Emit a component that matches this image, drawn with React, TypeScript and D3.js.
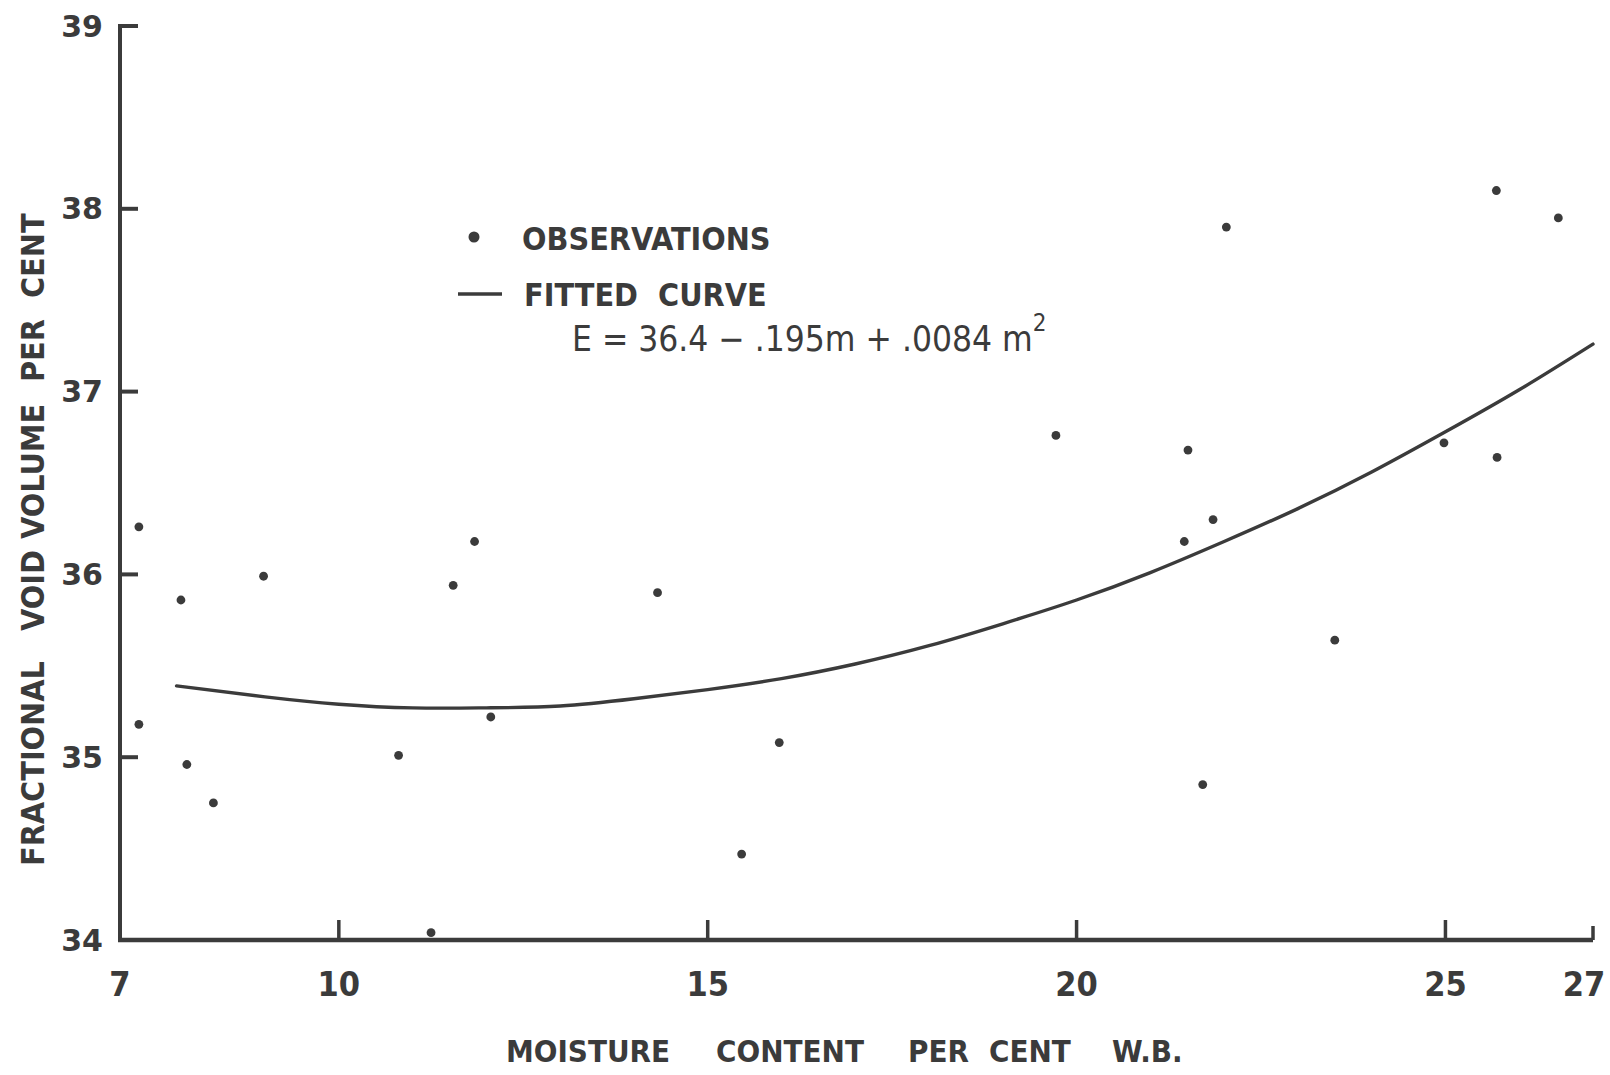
import React from "react";
import * as d3 from "d3";

// Observations (moisture content % w.b., fractional void volume %)
const moisture = [7.29, 7.29, 7.86, 7.94, 8.3, 8.98, 10.81, 11.25, 11.55, 11.84, 12.06, 14.32, 15.46, 15.97, 19.72, 21.51, 21.46, 21.85, 22.03, 21.71, 23.5, 24.98, 25.7, 25.69, 26.53];
const voidVolume = [36.26, 35.18, 35.86, 34.96, 34.75, 35.99, 35.01, 34.04, 35.94, 36.18, 35.22, 35.9, 34.47, 35.08, 36.76, 36.68, 36.18, 36.3, 37.9, 34.85, 35.64, 36.72, 36.64, 38.1, 37.95];

// Fitted curve points
const curveM = [7.8, 9, 10, 11, 12, 13, 14, 15, 16, 17, 18, 19, 20, 21, 22, 23, 24, 25, 26, 27];
const curveE = [35.39, 35.33, 35.29, 35.27, 35.27, 35.28, 35.32, 35.37, 35.43, 35.51, 35.61, 35.73, 35.86, 36.01, 36.18, 36.36, 36.56, 36.78, 37.01, 37.26];

const xTicks = [7, 10, 15, 20, 25, 27];
const yTicks = [34, 35, 36, 37, 38, 39];

const xTitleWords = ["MOISTURE", "CONTENT", "PER", "CENT", "W.B."];
const xTitleStarts = [506, 716, 908, 989, 1112];
const yTitleWords = ["FRACTIONAL", "VOID", "VOLUME", "PER", "CENT"];
const yTitleStarts = [866, 631, 539, 382, 298];

const INK = "#3b3b3b";
const COND = "'DejaVu Sans Condensed', 'DejaVu Sans', sans-serif";

export default function App() {
  const W = 1610, H = 1075;
  const x = d3.scaleLinear().domain([7, 27]).range([117.5, 1593]);
  const y = d3.scaleLinear().domain([34, 39]).range([940, 26]);
  const axisX = 120;
  const axisY = 940;

  const line = d3
    .line<number>()
    .x((_, i) => x(curveM[i]))
    .y((d) => y(d))
    .curve(d3.curveNatural);

  return (
    <svg
      width={W}
      height={H}
      viewBox={`0 0 ${W} ${H}`}
      style={{ position: "absolute", left: 0, top: 0, display: "block", background: "#fff" }}
    >
      <rect x={0} y={0} width={W} height={H} fill="#fff" />

      {/* Y axis */}
      <line x1={axisX} y1={y(39) - 2} x2={axisX} y2={axisY + 2} stroke={INK} strokeWidth={4} />
      {yTicks.map((t) => (
        <g key={"yt" + t}>
          {t !== 34 && (
            <line x1={axisX} x2={axisX + 18} y1={y(t)} y2={y(t)} stroke={INK} strokeWidth={4} />
          )}
          <text
            x={103}
            y={y(t)}
            textAnchor="end"
            dominantBaseline="central"
            fontFamily="'DejaVu Sans', sans-serif"
            fontWeight="bold"
            fontSize={30}
            fill={INK}
          >
            {t}
          </text>
        </g>
      ))}

      {/* X axis */}
      <line x1={axisX - 2} y1={axisY} x2={x(27)} y2={axisY} stroke={INK} strokeWidth={4.5} />
      {xTicks.map((t, i) => (
        <g key={"xt" + t}>
          {t !== 7 && (
            <line
              x1={x(t)}
              x2={x(t)}
              y1={axisY}
              y2={axisY - (i === xTicks.length - 1 ? 14 : 20)}
              stroke={INK}
              strokeWidth={3.5}
            />
          )}
          <text
            x={i === xTicks.length - 1 ? x(t) - 9 : t === 7 ? axisX : x(t)}
            y={996}
            textAnchor="middle"
            fontFamily={COND}
            fontWeight="bold"
            fontSize={34}
            fill={INK}
          >
            {t}
          </text>
        </g>
      ))}

      {/* Axis titles */}
      {xTitleWords.map((w, i) => (
        <text
          key={"xw" + i}
          x={xTitleStarts[i]}
          y={1062}
          fontFamily={COND}
          fontWeight="bold"
          fontSize={31}
          fill={INK}
        >
          {w}
        </text>
      ))}
      <g transform="rotate(-90)">
        {yTitleWords.map((w, i) => (
          <text
            key={"yw" + i}
            x={-yTitleStarts[i]}
            y={44}
            fontFamily={COND}
            fontWeight="bold"
            fontSize={32}
            fill={INK}
          >
            {w}
          </text>
        ))}
      </g>

      {/* Fitted curve */}
      <path d={line(curveE) || ""} fill="none" stroke={INK} strokeWidth={3.4} strokeLinecap="round" />

      {/* Observations */}
      {moisture.map((m, i) => (
        <circle key={"p" + i} cx={x(m)} cy={y(voidVolume[i])} r={4.4} fill={INK} />
      ))}

      {/* Legend */}
      <circle cx={474} cy={237} r={5.5} fill={INK} />
      <text x={522} y={250} fontFamily={COND} fontWeight="bold" fontSize={32} fill={INK}>
        OBSERVATIONS
      </text>
      <line x1={458} x2={502} y1={294} y2={294} stroke={INK} strokeWidth={3.5} />
      <text x={524} y={306} fontFamily={COND} fontWeight="bold" fontSize={32} fill={INK} style={{ whiteSpace: "pre" }}>
        {"FITTED  CURVE"}
      </text>
      <text x={572} y={351} fontFamily={COND} fontSize={35} fill={INK}>
        E = 36.4 − .195m + .0084 m
        <tspan fontSize={24} dy={-20}>2</tspan>
      </text>
    </svg>
  );
}
